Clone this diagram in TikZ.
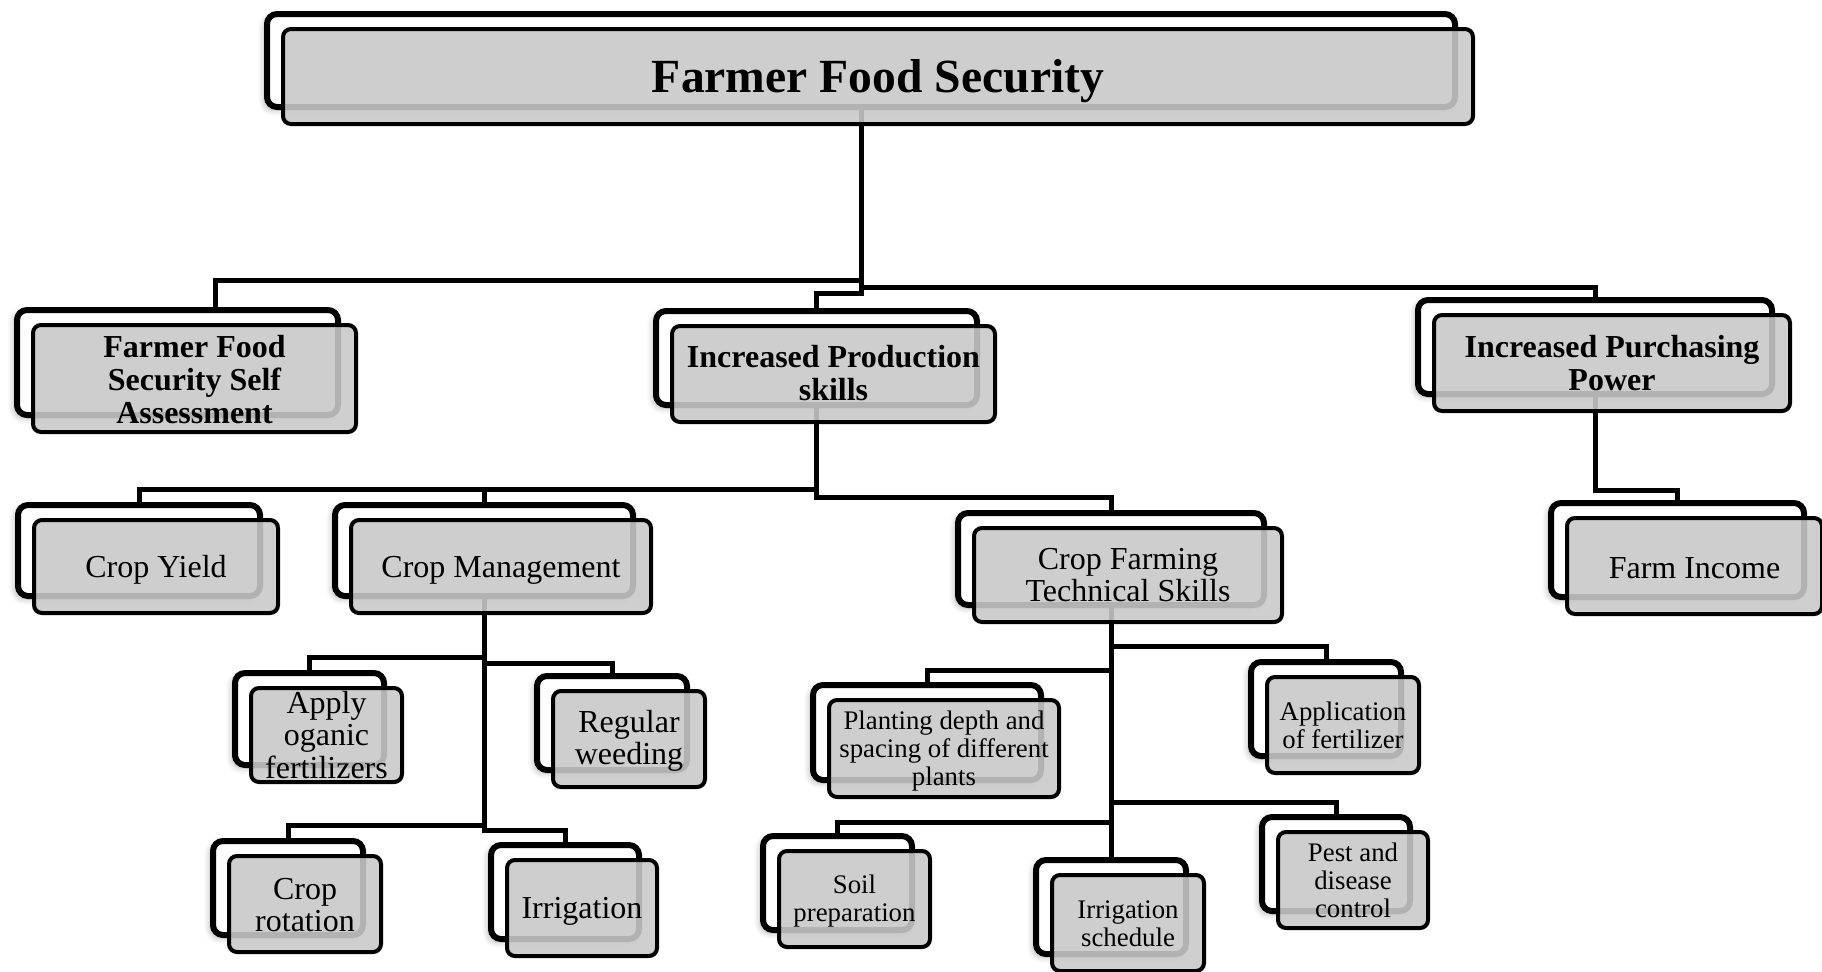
\documentclass[tikz,border=0pt]{standalone}
\usepackage{fontspec}
\setmainfont{Liberation Serif}
\usetikzlibrary{backgrounds,shadows.blur}
\newcommand\twobox[5]{%
  \node[backbox, minimum width=#4*0.5pt-3pt, minimum height=#5*0.5pt-3pt] (#1-b) at ({#2+#4/2},{#3+#5/2}) {};
  \node[frontbox, minimum width=#4*0.5pt-2pt, minimum height=#5*0.5pt-2pt] (#1) at ({#2+#4/2+17},{#3+#5/2+16}) {};
}
\begin{document}
\begin{tikzpicture}[x=0.5pt,y=-0.5pt,
  backbox/.style={draw=black, line width=3pt, fill=white, rounded corners=5pt, inner sep=0pt,
    blur shadow={shadow xshift=-1.5pt, shadow yshift=-1.5pt, shadow blur radius=3pt, shadow opacity=30}},
  frontbox/.style={draw=black, line width=2pt, fill=black!21, fill opacity=0.89, draw opacity=1, rounded corners=4pt, inner sep=0pt},
  conn/.style={draw=black, line width=2.5pt},
  tA/.style={font=\fontsize{23.8}{26}\selectfont\bfseries, align=center, inner sep=0pt},
  tB/.style={font=\fontsize{16}{16.5}\selectfont\bfseries, align=center, inner sep=0pt},
  tC/.style={font=\fontsize{16}{16.3}\selectfont, align=center, inner sep=0pt},
  tD/.style={font=\fontsize{13.4}{14}\selectfont, align=center, inner sep=0pt}
]
\useasboundingbox (0,0) rectangle (1822,971);

\twobox{top}{264}{11}{1194}{99}
\twobox{ffs}{14}{307}{327}{111}
\twobox{ips}{653}{308}{327}{100}
\twobox{ipp}{1415}{297}{360}{100}
\twobox{fi}{1548}{500}{259}{100}
\twobox{cy}{15}{502}{248}{97}
\twobox{cm}{332}{502}{304}{97}
\twobox{cfts}{955}{510}{312}{98}
\twobox{apply}{232}{670}{155}{98}
\twobox{weed}{534}{673}{156}{100}
\twobox{rot}{210}{838}{156}{100}
\twobox{irr}{488}{842}{154}{100}
\twobox{plant}{810}{682}{234}{101}
\twobox{appf}{1248}{659}{156}{100}
\twobox{pest}{1259}{814}{154}{100}
\twobox{soil}{760}{833}{155}{100}
\twobox{irs}{1033}{857}{156}{100}

\node[tA, yshift=-2.3pt] (top-t) at (top) {Farmer Food Security};
\node[tB, yshift=-0.5pt] (ffs-t) at (ffs) {Farmer Food\\Security Self\\Assessment};
\node[tB, yshift=0.5pt] (ips-t) at (ips) {Increased Production\\skills};
\node[tB] (ipp-t) at (ipp) {Increased Purchasing\\Power};
\node[tC, yshift=-1pt] (fi-t) at (fi) {Farm Income};
\node[tC, yshift=-1.8pt] (cy-t) at (cy) {Crop Yield};
\node[tC, yshift=-1.8pt] (cm-t) at (cm) {Crop Management};
\node[tC] (cfts-t) at (cfts) {Crop Farming\\Technical Skills};
\node[tC] (apply-t) at (apply) {Apply\\oganic\\fertilizers};
\node[tC, yshift=-1pt] (weed-t) at (weed) {Regular\\weeding};
\node[tC, yshift=-0.5pt] (rot-t) at (rot) {Crop\\rotation};
\node[tC, yshift=-1.5pt] (irr-t) at (irr) {Irrigation};
\node[tD, yshift=-1.2pt] (plant-t) at (plant) {Planting depth and\\spacing of different\\plants};
\node[tD] (appf-t) at (appf) {Application\\of fertilizer};
\node[tD] (pest-t) at (pest) {Pest and\\disease\\control};
\node[tD, yshift=-1.2pt] (soil-t) at (soil) {Soil\\preparation};
\node[tD, yshift=-0.5pt] (irs-t) at (irs) {Irrigation\\schedule};

\coordinate (y280) at (0,280);
\coordinate (y287) at (0,287);
\coordinate (y293) at (0,293);
\coordinate (y489) at (0,489);
\coordinate (y497) at (0,497);
\coordinate (y490) at (0,490);
\coordinate (y657) at (0,657);
\coordinate (y663) at (0,663);
\coordinate (y825) at (0,825);
\coordinate (y830) at (0,830);
\coordinate (y646) at (0,646);
\coordinate (y670) at (0,670);
\coordinate (y802) at (0,802);
\coordinate (y822) at (0,822);
\coordinate (ffs-in) at ([xshift=19pt]ffs-b.north);

\begin{scope}[on background layer]
\draw[conn] (top-b.center) -- (top-b.center |- y280) -| (ffs-in);
\draw[conn] (top-b.center) -- (top-b.center |- y287) -| (ipp-b.north);
\draw[conn] (top-b.center) -- (top-b.center |- y293) -| (ips-b.north);
\draw[conn] (ips-b.center) -- (ips-b.center |- y489) -| (cy-b.north);
\draw[conn] (ips-b.center |- y489) -| (cm-b.north);
\draw[conn] (ips-b.center) -- (ips-b.center |- y497) -| (cfts-b.north);
\draw[conn] (ipp-b.center) -- (ipp-b.center |- y490) -| (fi-b.north);
\draw[conn] (cm-b.center) -- (cm-b.center |- y657) -| (apply-b.north);
\draw[conn] (cm-b.center) -- (cm-b.center |- y663) -| (weed-b.north);
\draw[conn] (cm-b.center) -- (cm-b.center |- y825) -| (rot-b.north);
\draw[conn] (cm-b.center) -- (cm-b.center |- y830) -| (irr-b.north);
\draw[conn] (cfts-b.center) -- (cfts-b.center |- y646) -| (appf-b.north);
\draw[conn] (cfts-b.center) -- (cfts-b.center |- y670) -| (plant-b.north);
\draw[conn] (cfts-b.center) -- (cfts-b.center |- y802) -| (pest-b.north);
\draw[conn] (cfts-b.center) -- (cfts-b.center |- y822) -| (soil-b.north);
\draw[conn] (cfts-b.center) -- (irs-b.north);
\end{scope}
\end{tikzpicture}
\end{document}
